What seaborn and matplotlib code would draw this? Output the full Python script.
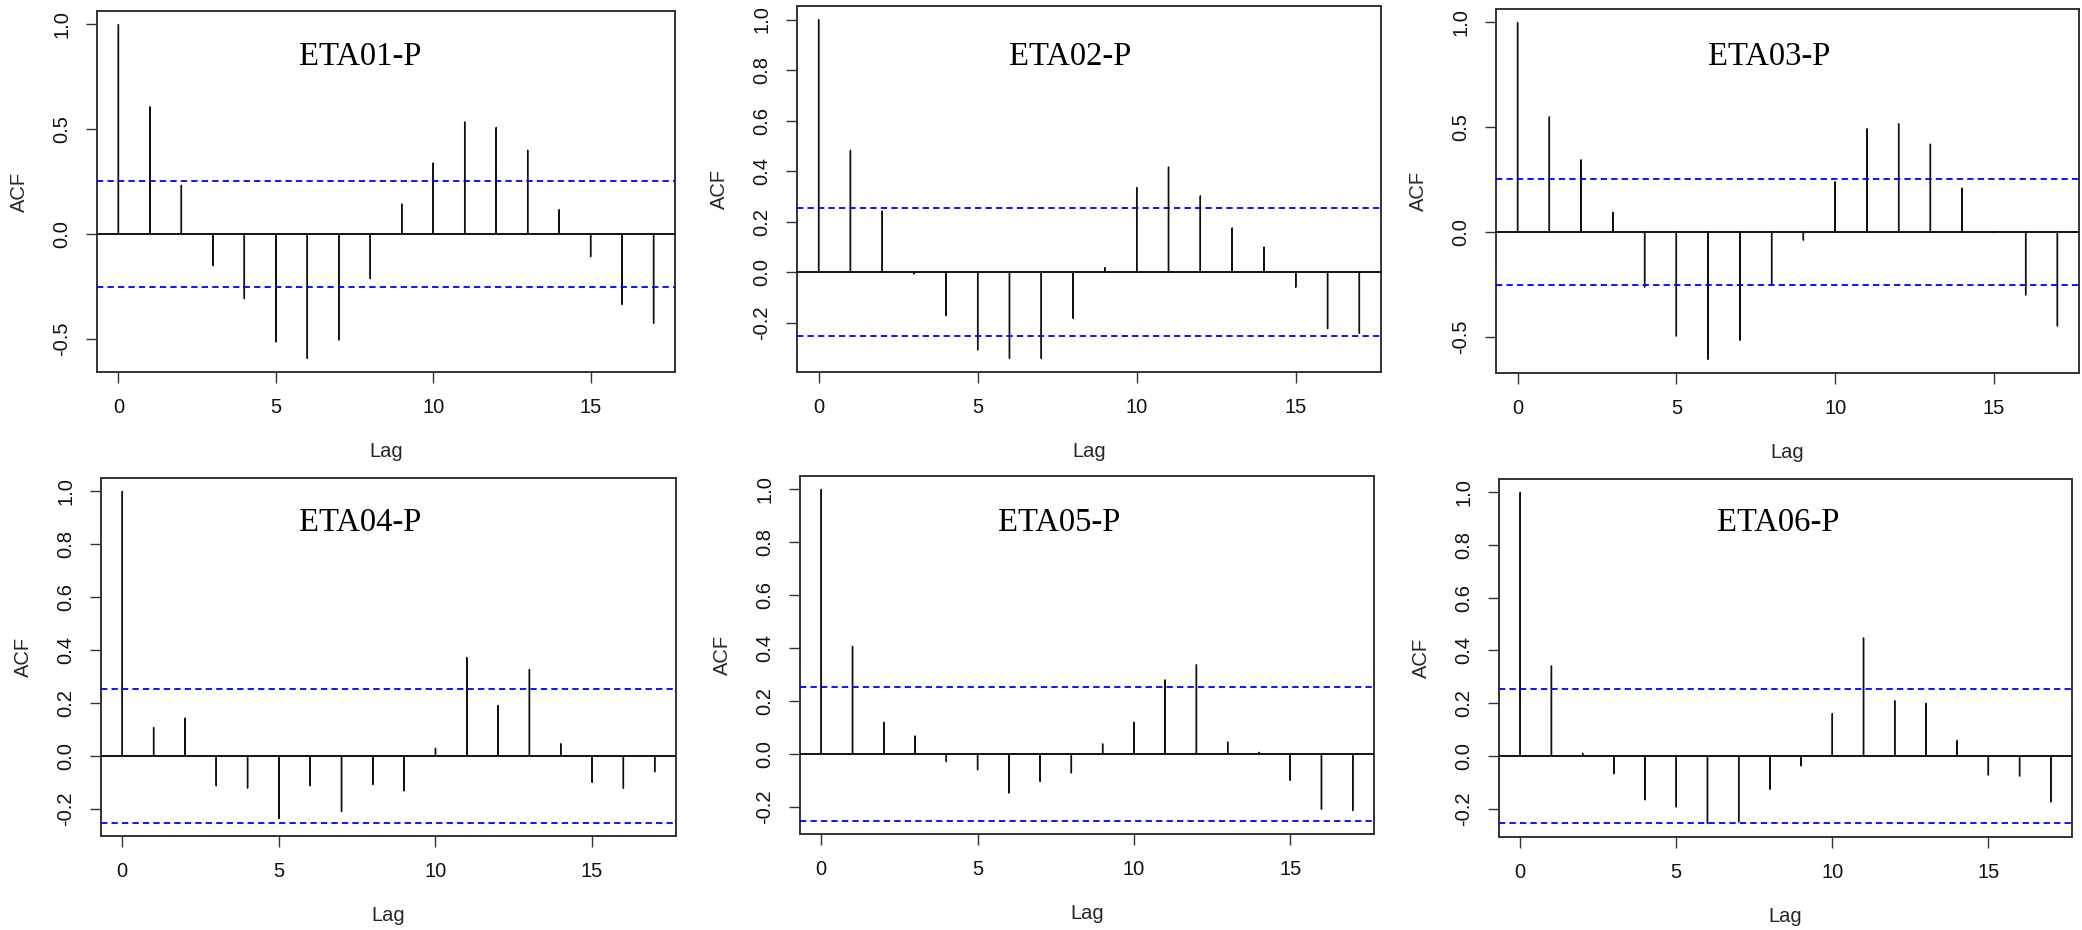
import numpy as np
import pandas as pd
import matplotlib
matplotlib.use("Agg")
import matplotlib.pyplot as plt
import seaborn as sns

# Autocorrelation estimates, lags 0..17, for each station series
lags = list(range(18))
names = ["ETA01-P", "ETA02-P", "ETA03-P", "ETA04-P", "ETA05-P", "ETA06-P"]
eta01 = [1.0, 0.607, 0.232, -0.153, -0.31, -0.517, -0.596, -0.508, -0.215,
         0.143, 0.339, 0.535, 0.508, 0.40, 0.116, -0.11, -0.338, -0.428]
eta02 = [1.0, 0.483, 0.243, -0.007, -0.172, -0.308, -0.341, -0.341, -0.183,
         0.019, 0.336, 0.417, 0.303, 0.176, 0.10, -0.06, -0.224, -0.242]
eta03 = [1.0, 0.55, 0.345, 0.094, -0.264, -0.498, -0.609, -0.518, -0.254,
         -0.04, 0.24, 0.493, 0.517, 0.42, 0.21, -0.003, -0.302, -0.45]
eta04 = [1.0, 0.107, 0.143, -0.114, -0.123, -0.238, -0.114, -0.211, -0.109,
         -0.133, 0.029, 0.372, 0.191, 0.327, 0.046, -0.101, -0.123, -0.061]
eta05 = [1.0, 0.407, 0.12, 0.068, -0.03, -0.061, -0.149, -0.105, -0.073,
         0.038, 0.12, 0.28, 0.337, 0.045, 0.006, -0.101, -0.21, -0.215]
eta06 = [1.0, 0.342, 0.011, -0.068, -0.167, -0.194, -0.257, -0.251, -0.127,
         -0.038, 0.161, 0.448, 0.21, 0.20, 0.059, -0.073, -0.077, -0.175]
series = [eta01, eta02, eta03, eta04, eta05, eta06]

# 95% confidence bound for white noise
ci_bound = 0.253
x_ticks = [0, 5, 10, 15]
y_steps = [0.5, 0.2, 0.5, 0.2, 0.2, 0.2]

sns.set_theme(style="ticks")
plt.rcParams["font.family"] = ["Liberation Sans", "DejaVu Sans"]
plt.rcParams["axes.unicode_minus"] = False

W, H = 2082, 930
fig = plt.figure(figsize=(W / 100, H / 100), dpi=100)
fig.patch.set_facecolor("white")

# panel boxes in pixels: left, top, right, bottom
boxes = [(97, 11, 675, 372), (797, 6, 1381, 372), (1496, 9, 2079, 373),
         (101, 478, 676, 836), (800, 476, 1374, 834), (1499, 479, 2072, 837)]
title_pos = [(0.455, 0.873), (0.467, 0.861), (0.468, 0.868),
             (0.450, 0.874), (0.451, 0.869), (0.487, 0.877)]

for i, (name, vals) in enumerate(zip(names, series)):
    l, t, r, b = boxes[i]
    ax = fig.add_axes([l / W, (H - b) / H, (r - l) / W, (b - t) / H])
    df = pd.DataFrame({"Lag": lags, "ACF": vals})
    # hairline bars: each spike is the outline of a near-zero-width bar
    sns.barplot(data=df, x="Lag", y="ACF", native_scale=True, width=0.002,
                color="black", saturation=1, linewidth=1.0, edgecolor="#111111",
                errorbar=None, ax=ax)
    for p in ax.patches:
        p.set_snap(False)
    ax.axhline(0, color="black", lw=1.3, zorder=3)
    for s in (ci_bound, -ci_bound):
        ax.axhline(s, color="#0000ff", lw=1.3, linestyle=(0, (3.5, 2.3)), zorder=3)

    arr = np.array(vals)
    lo = min(arr.min(), -ci_bound)
    hi = max(arr.max(), ci_bound)
    pad = (hi - lo) * 0.04
    ax.set_ylim(lo - pad, hi + pad)
    ax.set_xlim(-0.68, 17.68)

    step = y_steps[i]
    yt = np.arange(np.ceil((lo - pad) / step) * step, hi + pad + 1e-9, step)
    ax.set_yticks(yt)
    ax.set_yticklabels([f"{v:.1f}" if abs(v) > 1e-9 else "0.0" for v in yt])
    ax.set_xticks(x_ticks)
    ax.set_xticklabels([str(v) for v in x_ticks])

    ax.tick_params(axis="both", length=8, width=1.0, color="#333333",
                   labelsize=14.5, labelcolor="#111111")
    ax.tick_params(axis="x", pad=11)
    ax.tick_params(axis="y", pad=10.5, labelrotation=90)
    for lbl in ax.get_yticklabels():
        lbl.set_va("center")
    for sp in ax.spines.values():
        sp.set_visible(True)
        sp.set_color("#333333")
        sp.set_linewidth(1.4)

    ax.set_xlabel("Lag", fontsize=14.5, labelpad=17.5)
    ax.set_ylabel("ACF", fontsize=14.5, labelpad=17)
    ax.set_facecolor("white")
    ax.text(title_pos[i][0], title_pos[i][1], name, transform=ax.transAxes,
            ha="center", va="center", fontsize=23.5,
            family=["Liberation Serif", "DejaVu Serif"], color="black")

fig.savefig("out.png", dpi=100, facecolor="white")
